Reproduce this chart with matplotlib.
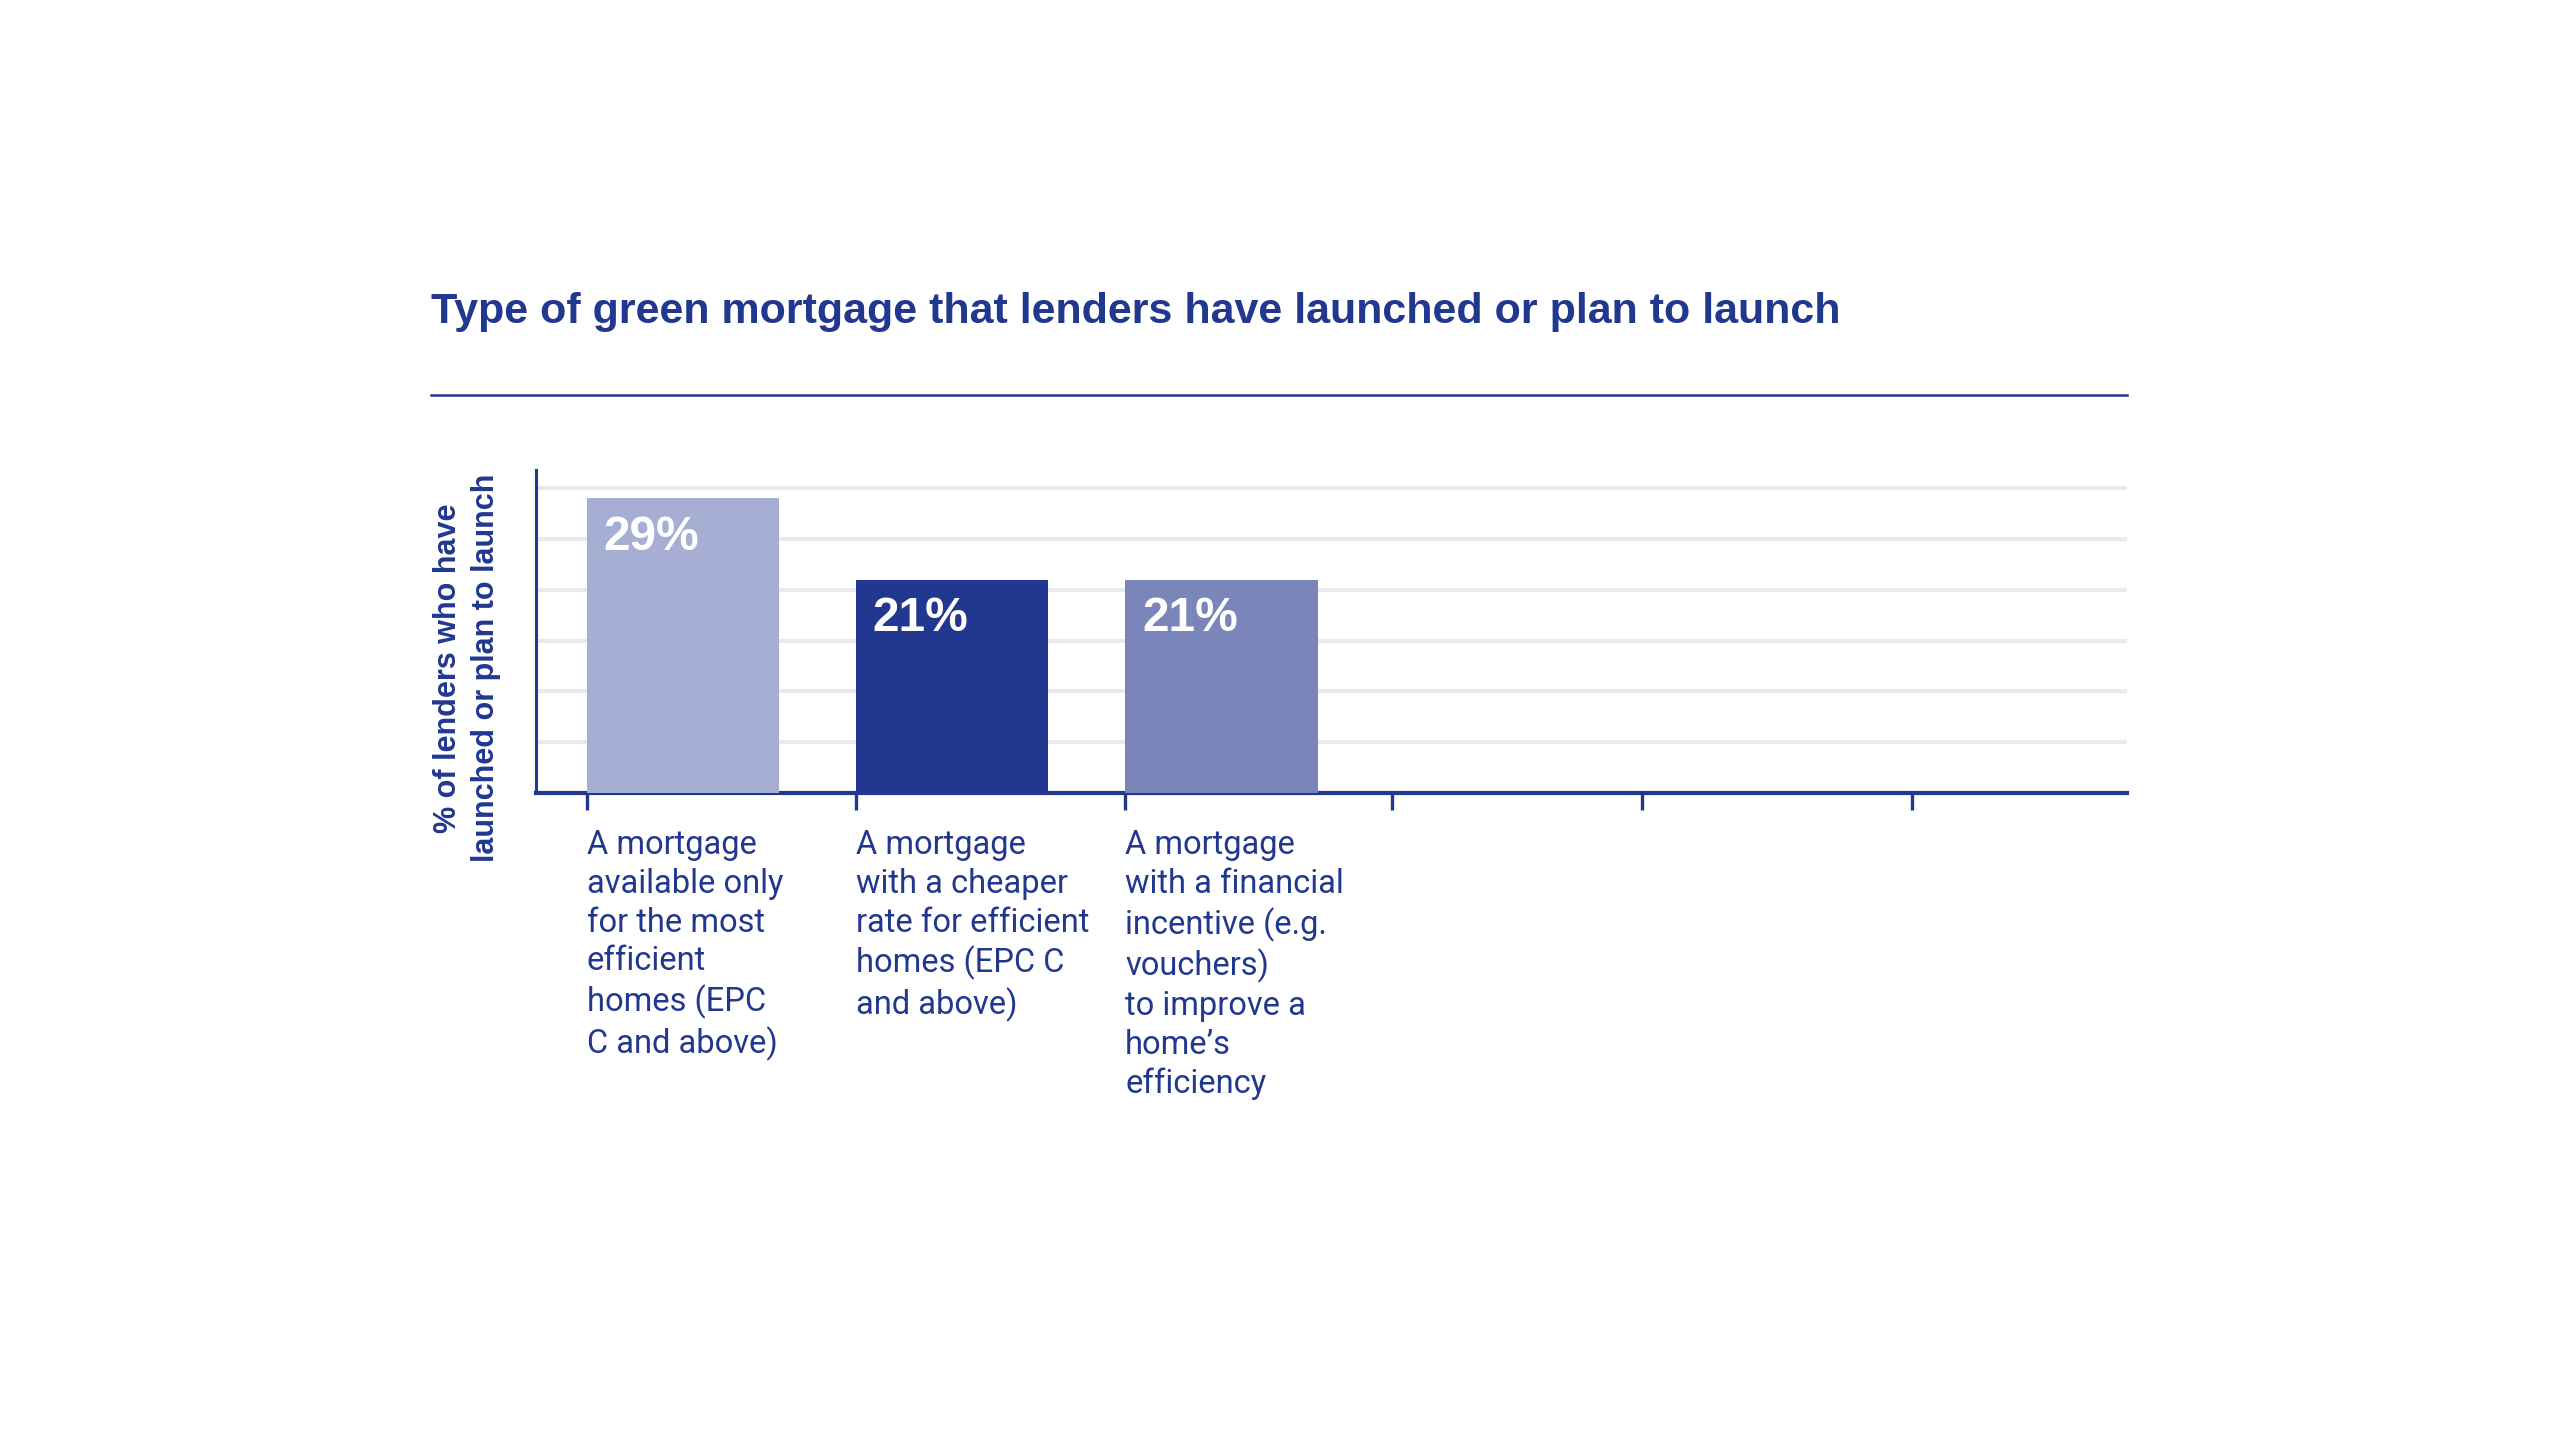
import matplotlib
matplotlib.use('Agg')
import matplotlib.pyplot as plt
from matplotlib.lines import Line2D

# data
categories = [
    'A mortgage\navailable only\nfor the most\nefficient\nhomes (EPC\nC and above)',
    'A mortgage\nwith a cheaper\nrate for efficient\nhomes (EPC C\nand above)',
    'A mortgage\nwith a financial\nincentive (e.g.\nvouchers)\nto improve a\nhome\u2019s\nefficiency',
]
values = [29, 21, 21]
bar_labels = ['29%', '21%', '21%']
bar_colors = ['#A6AED3', '#22378F', '#7A85BA']
tick_positions = [0, 1, 2, 2.99, 3.92, 4.92]

NAVY = '#22388F'
GRID = '#E8E9F1'

title = 'Type of green mortgage that lenders have launched or plan to launch'
ylabel = '% of lenders who have\nlaunched or plan to launch'


def main():
    fig = plt.figure(figsize=(25.6, 14.4), dpi=100)
    fig.patch.set_facecolor('white')

    W, H = 2560, 1440
    ax = fig.add_axes([536 / W, 1 - 793 / H, (2127 - 536) / W, (793 - 470) / H])

    xs = list(range(len(values)))
    ax.bar(xs, values, width=0.715, align='edge', color=bar_colors, zorder=3)

    for x, v, lab in zip(xs, values, bar_labels):
        ax.annotate(lab, xy=(x, v), xytext=(12, -28), textcoords='offset points',
                    ha='left', va='center', color='white', fontsize=34.5,
                    fontweight='bold', family='Liberation Sans', zorder=4)
        ax.annotate(categories[x], xy=(x, 0), xycoords=('data', 'axes fraction'),
                    xytext=(0, -26), textcoords='offset points', ha='left', va='top',
                    color=NAVY, fontsize=23.5, family='Roboto', fontweight='normal',
                    linespacing=1.27)

    ax.set_xlim(-0.188, 5.72)
    ax.set_ylim(0, 31.8)
    ax.set_yticks([5, 10, 15, 20, 25, 30])
    ax.yaxis.grid(True, color=GRID, linewidth=3, zorder=0)
    ax.set_axisbelow(True)
    ax.tick_params(axis='y', length=0, labelleft=False)
    ax.set_xticks(tick_positions)
    ax.tick_params(axis='x', length=12, width=2.4, color=NAVY, labelbottom=False,
                   direction='out')

    for side in ['top', 'right']:
        ax.spines[side].set_visible(False)
    ax.spines['left'].set_color(NAVY)
    ax.spines['left'].set_linewidth(2.2)
    ax.spines['bottom'].set_color(NAVY)
    ax.spines['bottom'].set_linewidth(3)

    fig.text(431 / W, 1 - 312 / H, title, ha='left', va='center', color=NAVY,
             fontsize=31, fontweight='bold', family='Liberation Sans')
    fig.add_artist(Line2D([431 / W, 2127 / W], [1 - 395 / H, 1 - 395 / H],
                          color=NAVY, linewidth=1.8, transform=fig.transFigure))
    fig.text(467 / W, 1 - 668 / H, ylabel, ha='center', va='center', rotation=90,
             color=NAVY, fontsize=22, fontweight='bold', family='Liberation Sans',
             linespacing=1.35, multialignment='center')

    fig.savefig('out.png', dpi=100, facecolor='white')


if __name__ == '__main__':
    main()
